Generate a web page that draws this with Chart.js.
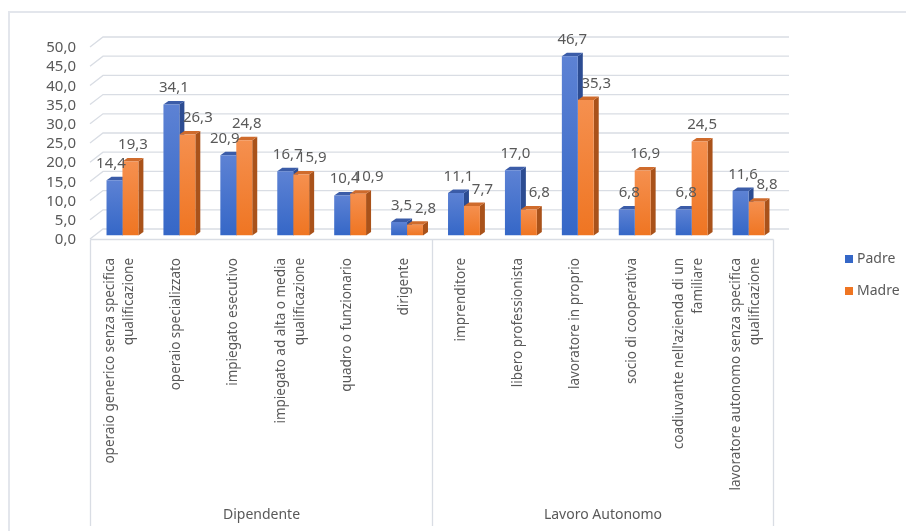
<!DOCTYPE html>
<html>
<head>
<meta charset="utf-8">
<script src="https://cdn.jsdelivr.net/npm/chart.js@4.4.1/dist/chart.umd.min.js"></script>
<style>
  html, body { margin: 0; padding: 0; background: #fff; overflow: hidden; }
  #wrap { position: relative; width: 906px; height: 531px; }
  #frame { position: absolute; left: 8px; top: 11px; width: 1000px; height: 600px; border: 2px solid #e3e6ec; }
  #chart { position: absolute; left: 0; top: 0; }
</style>
</head>
<body>
<div id="wrap">
  <div id="frame"></div>
  <canvas id="chart" width="906" height="531"></canvas>
</div>
<script>
  'use strict';

  const categories = [
    ['operaio generico senza specifica', 'qualificazione'],
    ['operaio specializzato'],
    ['impiegato esecutivo'],
    ['impiegato ad alta o media', 'qualificazione'],
    ['quadro o funzionario'],
    ['dirigente'],
    ['imprenditore'],
    ['libero professionista'],
    ['lavoratore in proprio'],
    ['socio di cooperativa'],
    ["coadiuvante nell'azienda di un", 'familiare'],
    ['lavoratore autonomo senza specifica', 'qualificazione'],
  ];
  const groups = ['Dipendente', 'Lavoro Autonomo'];
  const groupSizes = [6, 6];
  const padre = [14.4, 34.1, 20.9, 16.7, 10.4, 3.5, 11.1, 17.0, 46.7, 6.8, 6.8, 11.6];
  const madre = [19.3, 26.3, 24.8, 15.9, 10.9, 2.8, 7.7, 6.8, 35.3, 16.9, 24.5, 8.8];
  const yTicks = [0, 5, 10, 15, 20, 25, 30, 35, 40, 45, 50];

  const TEXT = '#595959';
  const LINE = '#d9dde4';
  const FONT = '"Noto Sans", "Open Sans", sans-serif';

  // bar plane sits mid-depth; front edge and back wall are offset from it
  const FRONT = { dx: -4, dy: 3.5 };
  const BACK = { dx: 9, dy: -6.5 };
  const DEPTH = { dx: 5, dy: -3.5 };

  const palette = {
    padre: { top: '#5d82d4', bottom: '#3567c7', side: '#2c4c92', cap: '#3b5ca8' },
    madre: { top: '#f5904f', bottom: '#ef7522', side: '#a9521a', cap: '#cf6b2c' },
  };

  const fmt = (v) => v.toFixed(1).replace('.', ',');

  // keep value labels off the neighbouring bar of the same pair
  function labelShift(di, i) {
    const diff = madre[i] - padre[i];
    if (di === 1) return padre[i] > madre[i] - 1 ? 8 : 0;
    return diff >= 1 && diff <= 6 ? -6 : 0;
  }

  function frontFill(colors) {
    return (c) => {
      const chart = c.chart;
      const y = chart.scales.y;
      if (!y || !chart.chartArea || typeof c.raw !== 'number') return colors.bottom;
      const top = y.getPixelForValue(c.raw);
      const base = y.getPixelForValue(0);
      const g = chart.ctx.createLinearGradient(0, top, 0, Math.max(base, top + 1));
      g.addColorStop(0, colors.top);
      g.addColorStop(1, colors.bottom);
      return g;
    };
  }

  function poly(ctx, pts, color) {
    ctx.beginPath();
    ctx.moveTo(pts[0][0], pts[0][1]);
    for (let i = 1; i < pts.length; i++) ctx.lineTo(pts[i][0], pts[i][1]);
    ctx.closePath();
    ctx.fillStyle = color;
    ctx.fill();
  }

  const excel3d = {
    id: 'excel3d',
    beforeDatasetsDraw(chart) {
      const { ctx, chartArea: a, scales: { y } } = chart;
      ctx.save();
      // left wall diagonals + back wall grid
      ctx.strokeStyle = LINE;
      ctx.lineWidth = 1.3;
      yTicks.forEach((v) => {
        const yp = y.getPixelForValue(v);
        ctx.beginPath();
        ctx.moveTo(a.left + FRONT.dx, yp + FRONT.dy);
        ctx.lineTo(a.left + BACK.dx, yp + BACK.dy);
        ctx.lineTo(a.right + BACK.dx + 3, yp + BACK.dy);
        ctx.stroke();
      });
      // y tick labels along the front edge
      ctx.fillStyle = TEXT;
      ctx.font = `15px ${FONT}`;
      ctx.textAlign = 'right';
      ctx.textBaseline = 'middle';
      yTicks.forEach((v) => {
        ctx.fillText(fmt(v), 76, y.getPixelForValue(v) + FRONT.dy + 1);
      });
      // side and top faces, drawn before the fronts so the next bar covers them
      const keys = ['padre', 'madre'];
      chart.data.datasets.forEach((ds, di) => {
        const colors = palette[keys[di]];
        chart.getDatasetMeta(di).data.forEach((el) => {
          const { x: cx, y: top, base, width } = el.getProps(['x', 'y', 'base', 'width'], true);
          const l = cx - width / 2;
          const r = cx + width / 2;
          poly(ctx, [[r, top], [r + DEPTH.dx, top + DEPTH.dy], [r + DEPTH.dx, base + DEPTH.dy], [r, base]], colors.side);
          poly(ctx, [[l, top], [l + DEPTH.dx, top + DEPTH.dy], [r + DEPTH.dx, top + DEPTH.dy], [r, top]], colors.cap);
        });
      });
      ctx.restore();
    },
    afterDatasetsDraw(chart) {
      const { ctx } = chart;
      ctx.save();
      ctx.fillStyle = TEXT;
      ctx.font = `15px ${FONT}`;
      ctx.textAlign = 'center';
      ctx.textBaseline = 'middle';
      chart.data.datasets.forEach((ds, di) => {
        chart.getDatasetMeta(di).data.forEach((el, i) => {
          const { x: cx, y: top } = el.getProps(['x', 'y'], true);
          ctx.fillText(fmt(ds.data[i]), cx + DEPTH.dx / 2 + labelShift(di, i), top - 16.5);
        });
      });
      ctx.restore();
    },
    afterDraw(chart) {
      const { ctx, scales: { x, y } } = chart;
      const floorY = y.getPixelForValue(0) + FRONT.dy + 0.5;
      const bottomY = 526;
      ctx.save();

      // category box: top edge and group separators
      ctx.strokeStyle = LINE;
      ctx.lineWidth = 1.3;
      const edges = [-0.5];
      let acc = -0.5;
      groupSizes.forEach((n) => { acc += n; edges.push(acc); });
      const edgeX = edges.map((e) => Math.round(x.getPixelForValue(e) + FRONT.dx) + 0.5);
      ctx.beginPath();
      ctx.moveTo(edgeX[0], floorY);
      ctx.lineTo(edgeX[edgeX.length - 1], floorY);
      edgeX.forEach((ex) => {
        ctx.moveTo(ex, floorY);
        ctx.lineTo(ex, bottomY);
      });
      ctx.stroke();

      // rotated category labels
      ctx.fillStyle = TEXT;
      ctx.font = `13.5px ${FONT}`;
      ctx.textAlign = 'right';
      ctx.textBaseline = 'middle';
      const lineH = 19;
      categories.forEach((lines, i) => {
        const cx = x.getPixelForValue(i) - 3;
        lines.forEach((txt, j) => {
          const lx = cx + (j - (lines.length - 1) / 2) * lineH;
          ctx.save();
          ctx.translate(lx, 258);
          ctx.rotate(-Math.PI / 2);
          ctx.fillText(txt, 0, 0);
          ctx.restore();
        });
      });

      // group labels
      ctx.font = `14px ${FONT}`;
      ctx.textAlign = 'center';
      groups.forEach((g, gi) => {
        ctx.fillText(g, (edgeX[gi] + edgeX[gi + 1]) / 2, 515);
      });

      // legend
      const legend = [['Padre', palette.padre.bottom], ['Madre', palette.madre.bottom]];
      ctx.textAlign = 'left';
      legend.forEach(([name, color], k) => {
        const ly = 259 + k * 32;
        ctx.fillStyle = color;
        ctx.fillRect(845, ly - 4, 8, 8);
        ctx.fillStyle = TEXT;
        ctx.fillText(name, 857, ly);
      });
      ctx.restore();
    },
  };

  new Chart(document.getElementById('chart'), {
    type: 'bar',
    data: {
      labels: categories,
      datasets: [
        { label: 'Padre', data: padre, backgroundColor: frontFill(palette.padre), borderWidth: 0 },
        { label: 'Madre', data: madre, backgroundColor: frontFill(palette.madre), borderWidth: 0 },
      ],
    },
    options: {
      responsive: false,
      animation: false,
      events: [],
      layout: { padding: { left: 0, top: 43.5, right: 129, bottom: 0 } },
      datasets: { bar: { categoryPercentage: 0.56, barPercentage: 1 } },
      scales: {
        x: {
          grid: { display: false },
          border: { display: false },
          ticks: { display: false },
          afterFit: (s) => { s.height = 295.5; },
        },
        y: {
          min: 0,
          max: 50,
          grid: { display: false },
          border: { display: false },
          ticks: { display: false, stepSize: 5 },
          afterFit: (s) => { s.width = 94; },
        },
      },
      plugins: { legend: { display: false }, tooltip: { enabled: false } },
    },
    plugins: [excel3d],
  });
</script>
</body>
</html>
